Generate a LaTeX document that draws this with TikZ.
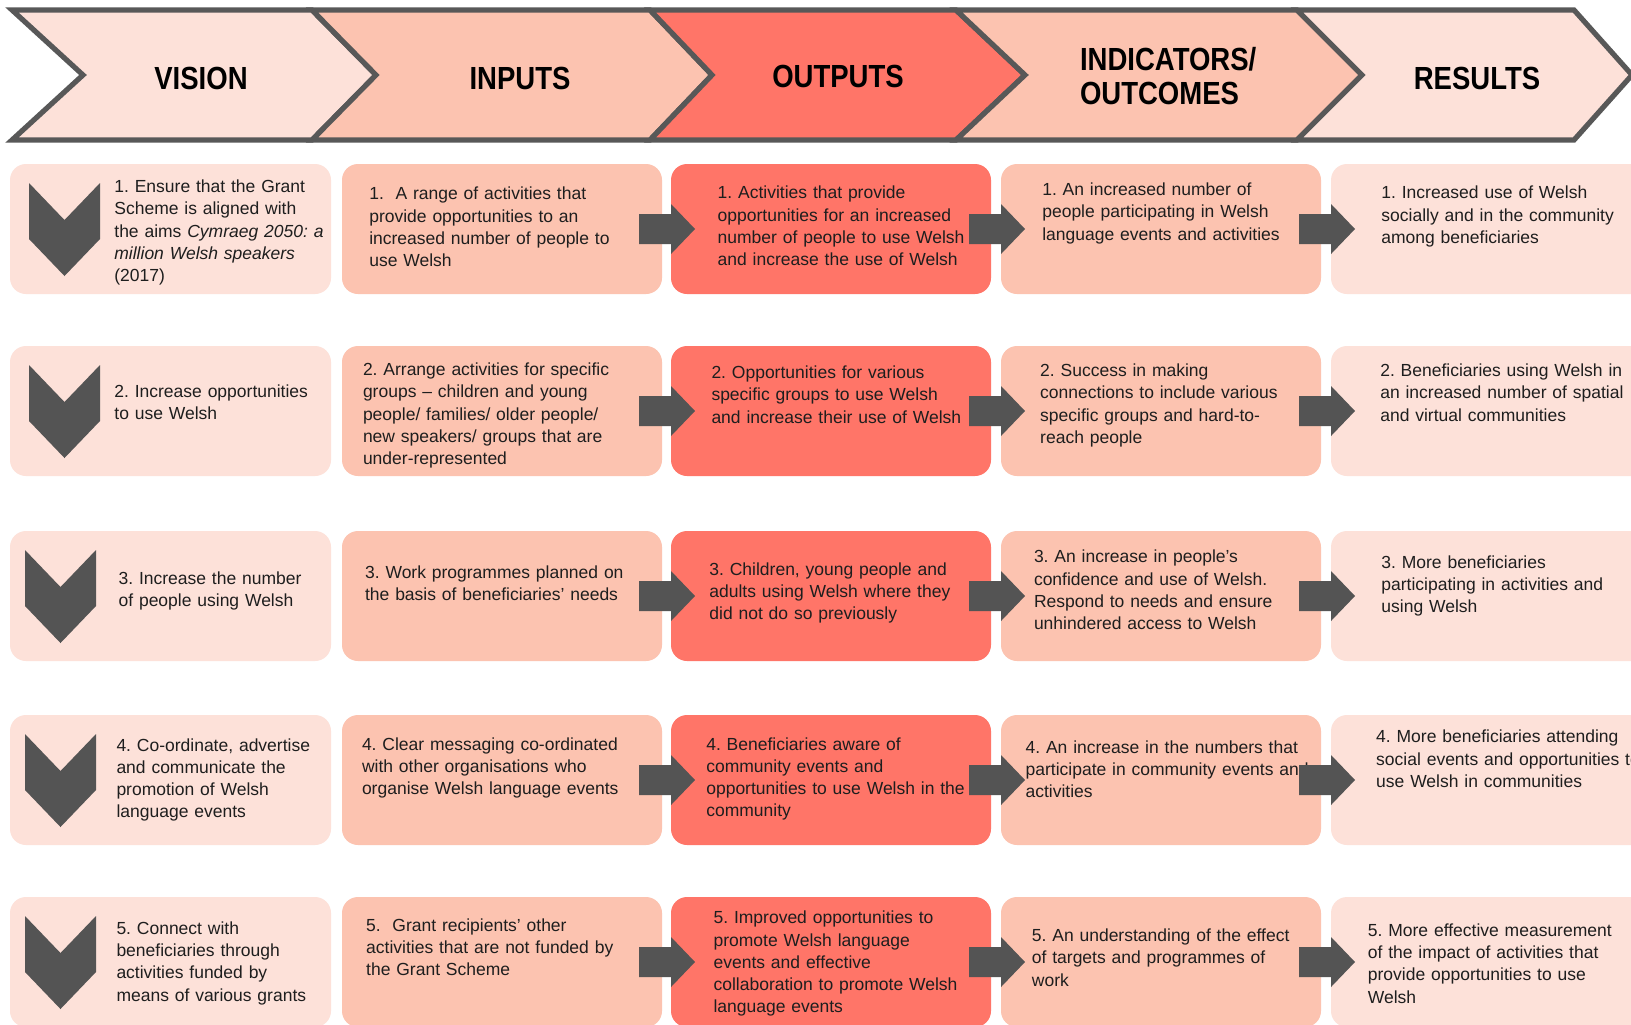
\documentclass[tikz,border=0pt]{standalone}
\usepackage{fontspec}
\setmainfont{Liberation Sans}
\newfontfamily\headfont[FakeStretch=0.86]{Liberation Sans}
\usetikzlibrary{calc}
\setlength{\parindent}{0pt}
\frenchspacing
\definecolor{lightc}{HTML}{FDE1D9}
\definecolor{midc}{HTML}{FCC3B0}
\definecolor{redc}{HTML}{FF7568}
\definecolor{darkc}{HTML}{545454}
\definecolor{outlinec}{HTML}{585858}
\definecolor{textc}{HTML}{1E1E1E}
\newcommand\bxfont{\fontsize{8.75}{11.15}\selectfont\frenchspacing}
\newcommand\hdfont{\headfont\bfseries\fontsize{16}{16.6}\selectfont}
\begin{document}
\begin{tikzpicture}[x=0.5pt,y=-0.5pt,
  box/.style={rectangle, rounded corners=8pt, inner sep=0pt, outer sep=0pt,
    minimum width=160pt, minimum height=65pt, anchor=north west},
  txt/.style={anchor=north west, inner sep=0pt, outer sep=0pt, text width=190pt,
    align=left, font=\bxfont, text=textc},
  head/.style={font=\hdfont, text=black, inner sep=0pt, outer sep=0pt},
  chev/.style={draw=outlinec, line width=2.6pt, line join=miter},
  blk/.style={fill=darkc}]
\useasboundingbox (0,0) rectangle (1631,1024);
\clip (0,0) rectangle (1631,1024);
\fill[white] (0,0) rectangle (1631,1024);

% header chevrons
\filldraw[chev, fill=lightc] (12,10) -- (312,10) -- (376,75) -- (312,140) -- (12,140) -- (83,75) -- cycle;
\filldraw[chev, fill=midc] (312,10) -- (650,10) -- (712,75) -- (650,140) -- (312,140) -- (376,75) -- cycle;
\filldraw[chev, fill=redc] (650,10) -- (956,10) -- (1025,75) -- (956,140) -- (650,140) -- (712,75) -- cycle;
\filldraw[chev, fill=midc] (956,10) -- (1297,10) -- (1362,75) -- (1297,140) -- (956,140) -- (1025,75) -- cycle;
\filldraw[chev, fill=lightc] (1297,10) -- (1574,10) -- (1632,75) -- (1574,140) -- (1297,140) -- (1362,75) -- cycle;

\node[head] (hvision) at (201,78) {VISION};
\node[head] (hinputs) at (520,78) {INPUTS};
\node[head] (houtputs) at (838,76) {OUTPUTS};
\node[head, align=left, anchor=west] (hind) at (1080,76) {INDICATORS/\\[0.5pt]OUTCOMES};
\node[head] (hresults) at (1477,78) {RESULTS};

% boxes, chevrons and arrows
\foreach \r/\y/\cx in {1/164/29, 2/346/29, 3/531/25, 4/715/25, 5/897/25} {
  \node[box, fill=lightc, minimum width=160.5pt] (b\r1) at (10,\y) {};
  \node[box, fill=midc] (b\r2) at (342,\y) {};
  \node[box, fill=redc] (b\r3) at (671,\y) {};
  \node[box, fill=midc] (b\r4) at (1001,\y) {};
  \node[box, fill=lightc, minimum width=166pt] (b\r5) at (1331,\y) {};
  \fill[blk] (\cx,\y+19) -- ++(35.5,37) -- ++(35.5,-37) -- ++(0,56) -- ++(-35.5,37) -- ++(-35.5,-37) -- cycle;
}

% body texts
\node[txt] (t11) at (114.4,176.8) {\strut 1. Ensure that the Grant\\Scheme is aligned with\\the aims \textit{Cymraeg 2050: a}\\\textit{million Welsh speakers}\\(2017)};
\node[txt] (t12) at (369.3,184.1) {\strut 1.\ \ A range of activities that\\provide opportunities to an\\increased number of people to\\use Welsh};
\node[txt] (t13) at (717.7,183.1) {\strut 1. Activities that provide\\opportunities for an increased\\number of people to use Welsh\\and increase the use of Welsh};
\node[txt] (t14) at (1042.3,180) {\strut 1. An increased number of\\people participating in Welsh\\language events and activities};
\node[txt] (t15) at (1381.4,183.1) {\strut 1. Increased use of Welsh\\socially and in the community\\among beneficiaries};

\node[txt] (t21) at (114.4,381.8) {\strut 2. Increase opportunities\\to use Welsh};
\node[txt] (t22) at (363,359.9) {\strut 2. Arrange activities for specific\\groups – children and young\\people/ families/ older people/\\new speakers/ groups that are\\under-represented};
\node[txt] (t23) at (711.5,363) {\strut 2. Opportunities for various\\specific groups to use Welsh\\and increase their use of Welsh};
\node[txt] (t24) at (1040.2,361) {\strut 2. Success in making\\connections to include various\\specific groups and hard-to-\\reach people};
\node[txt] (t25) at (1380.3,361) {\strut 2. Beneficiaries using Welsh in\\an increased number of spatial\\and virtual communities};

\node[txt] (t31) at (118.6,569) {\strut 3. Increase the number\\of people using Welsh};
\node[txt] (t32) at (365.1,562.8) {\strut 3. Work programmes planned on\\the basis of beneficiaries’ needs};
\node[txt] (t33) at (709.4,559.6) {\strut 3. Children, young people and\\adults using Welsh where they\\did not do so previously};
\node[txt] (t34) at (1034,547.1) {\strut 3. An increase in people’s\\confidence and use of Welsh.\\Respond to needs and ensure\\unhindered access to Welsh};
\node[txt] (t35) at (1381.4,552.4) {\strut 3. More beneficiaries\\participating in activities and\\using Welsh};

\node[txt] (t41) at (116.5,735.4) {\strut 4. Co-ordinate, advertise\\and communicate the\\promotion of Welsh\\language events};
\node[txt] (t42) at (362,734.4) {\strut 4. Clear messaging co-ordinated\\with other organisations who\\organise Welsh language events};
\node[txt] (t43) at (706.3,734.4) {\strut 4. Beneficiaries aware of\\community events and\\opportunities to use Welsh in the\\community};
\node[txt] (t44) at (1025.6,737.5) {\strut 4. An increase in the numbers that\\participate in community events and\\activities};
\node[txt] (t45) at (1376.2,727.1) {\strut 4. More beneficiaries attending\\social events and opportunities to\\use Welsh in communities};

\node[txt] (t51) at (116.5,918.5) {\strut 5. Connect with\\beneficiaries through\\activities funded by\\means of various grants};
\node[txt] (t52) at (366.2,915.4) {\strut 5.\ \ Grant recipients' other\\activities that are not funded by\\the Grant Scheme};
\node[txt] (t53) at (713.6,908.1) {\strut 5. Improved opportunities to\\promote Welsh language\\events and effective\\collaboration to promote Welsh\\language events};
\node[txt] (t54) at (1031.9,925.8) {\strut 5. An understanding of the effect\\of targets and programmes of\\work};
\node[txt] (t55) at (1367.9,920.6) {\strut 5. More effective measurement\\of the impact of activities that\\provide opportunities to use\\Welsh};

% block arrows between boxes
\foreach \r in {1,...,5} {
  \foreach \c in {3,4,5} {
    \fill[blk] ($(b\r\c.west)+(-32,-15)$) -- ++(32,0) -- ++(0,-10) -- ++(24,25) -- ++(-24,25) -- ++(0,-10) -- ++(-32,0) -- cycle;
  }
}
\end{tikzpicture}
\end{document}
